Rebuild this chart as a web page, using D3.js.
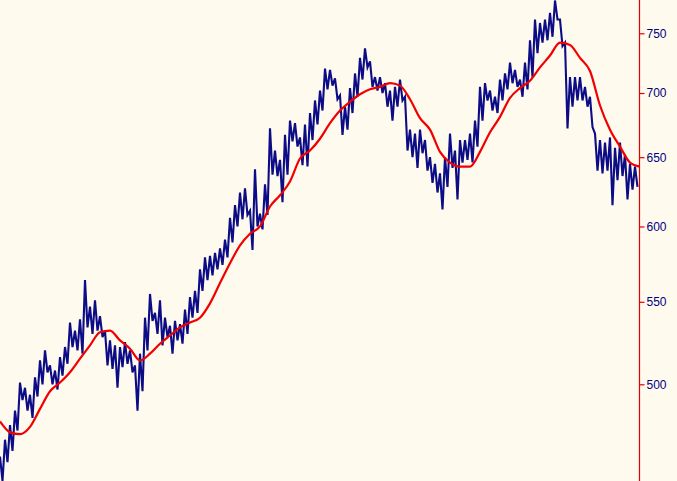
<!DOCTYPE html>
<html>
<head>
<meta charset="utf-8">
<script src="https://cdn.jsdelivr.net/npm/d3@7/dist/d3.min.js"></script>
<style>
html,body{margin:0;padding:0;background:#FFFAEE;}
svg{display:block;}
</style>
</head>
<body>
<script>
// Daily price range, sampled every 5 trading steps (high / low)
const highs = [
460,469,477,485,501,498,494,504,514,520,
511,508,516,522,537,532,539,564,547,551,
541,532,526,523,522,525,520,511,518,540,
555,543,551,540,535,538,536,545,553,557,
571,579,580,582,585,591,606,615,624,627,
611,641,609,630,672,655,648,667,678,676,
665,675,684,694,702,720,719,712,698,689,
704,716,729,737,726,713,713,708,702,705,
711,697,671,668,671,663,650,645,638,650,
668,655,663,663,668,678,705,708,702,697,
711,716,725,719,711,725,744,762,759,762,
768,779,762,742,713,713,713,705,697,668,
663,661,665,657,661,652,645,643
];
const lows = [
447,457,463,474,491,485,481,493,500,507,
500,497,505,512,522,520,518,534,530,532,
528,511,509,498,510,512,507,485,496,520,
538,530,523,528,518,526,524,530,540,543,
557,564,567,571,574,579,589,600,605,608,
584,600,598,608,637,636,617,637,662,658,
644,643,663,675,686,703,706,695,667,671,
684,697,711,721,705,702,700,689,678,689,
694,655,650,642,653,640,631,624,612,628,
642,619,646,648,646,658,678,694,686,684,
694,703,708,705,697,703,713,733,742,744,
747,762,739,672,689,694,694,689,673,640,
638,640,615,633,636,619,626,628
];
// Moving average, one value every 2 steps
const movingAvg = [
479,473,472,476,486,496,501,507,515,523,
531,532,526,521,514,518,524,529,534,537,
540,549,562,575,587,595,600,614,622,632,
649,655,664,676,686,693,699,703,705,708,
706,695,680,671,654,646,643,643,654,669,
681,696,704,710,721,731,742,740,729,718,
690,671,658,646,643
];
const tickValues = [500,550,600,650,700,750];

const W = 677, H = 481, axisX = 639.5;
const svg = d3.select("body").append("svg").attr("width", W).attr("height", H);
svg.append("rect").attr("width", W).attr("height", H).attr("fill", "#FFFAEE");

const x = d3.scaleLinear().domain([0, 128]).range([0, 640]);
const y = d3.scaleLog().domain([500, 750]).range([384.3, 33.3]);

svg.append("clipPath").attr("id","clip").append("rect")
  .attr("x",0).attr("y",0).attr("width",axisX).attr("height",H);

const blue = "#0C0C86";
const idx = d3.range(highs.length);

// price zigzag: high then low for each step
const pts = [];
idx.forEach(i => {
  pts.push([x(i), y(highs[i])]);
  pts.push([x(i + 0.5), y(lows[i])]);
});
svg.append("path")
  .attr("clip-path","url(#clip)")
  .attr("d", d3.line()(pts))
  .attr("fill","none")
  .attr("stroke", blue)
  .attr("stroke-width",2.1);

svg.append("path")
  .attr("clip-path","url(#clip)")
  .datum(movingAvg)
  .attr("d", d3.line().x((d,i)=>x(i*2)).y(d=>y(d)).curve(d3.curveMonotoneX))
  .attr("fill","none")
  .attr("stroke","#F00000")
  .attr("stroke-width",2.2);

// right axis
const axis = d3.axisRight(y).tickValues(tickValues).tickFormat(d3.format("d")).tickSize(5).tickPadding(2);
const g = svg.append("g").attr("transform", `translate(${axisX},0)`).call(axis);
g.select(".domain").remove();
g.append("line").attr("x1",0).attr("x2",0).attr("y1",0).attr("y2",H)
  .attr("stroke","#E00000").attr("stroke-width",1.2);
g.selectAll(".tick line").attr("stroke","#E00000").attr("stroke-width",1.2);
g.selectAll(".tick text").attr("fill","#000080")
  .style("font-family","'Liberation Sans', Arial, sans-serif").style("font-size","12px");
</script>
</body>
</html>
